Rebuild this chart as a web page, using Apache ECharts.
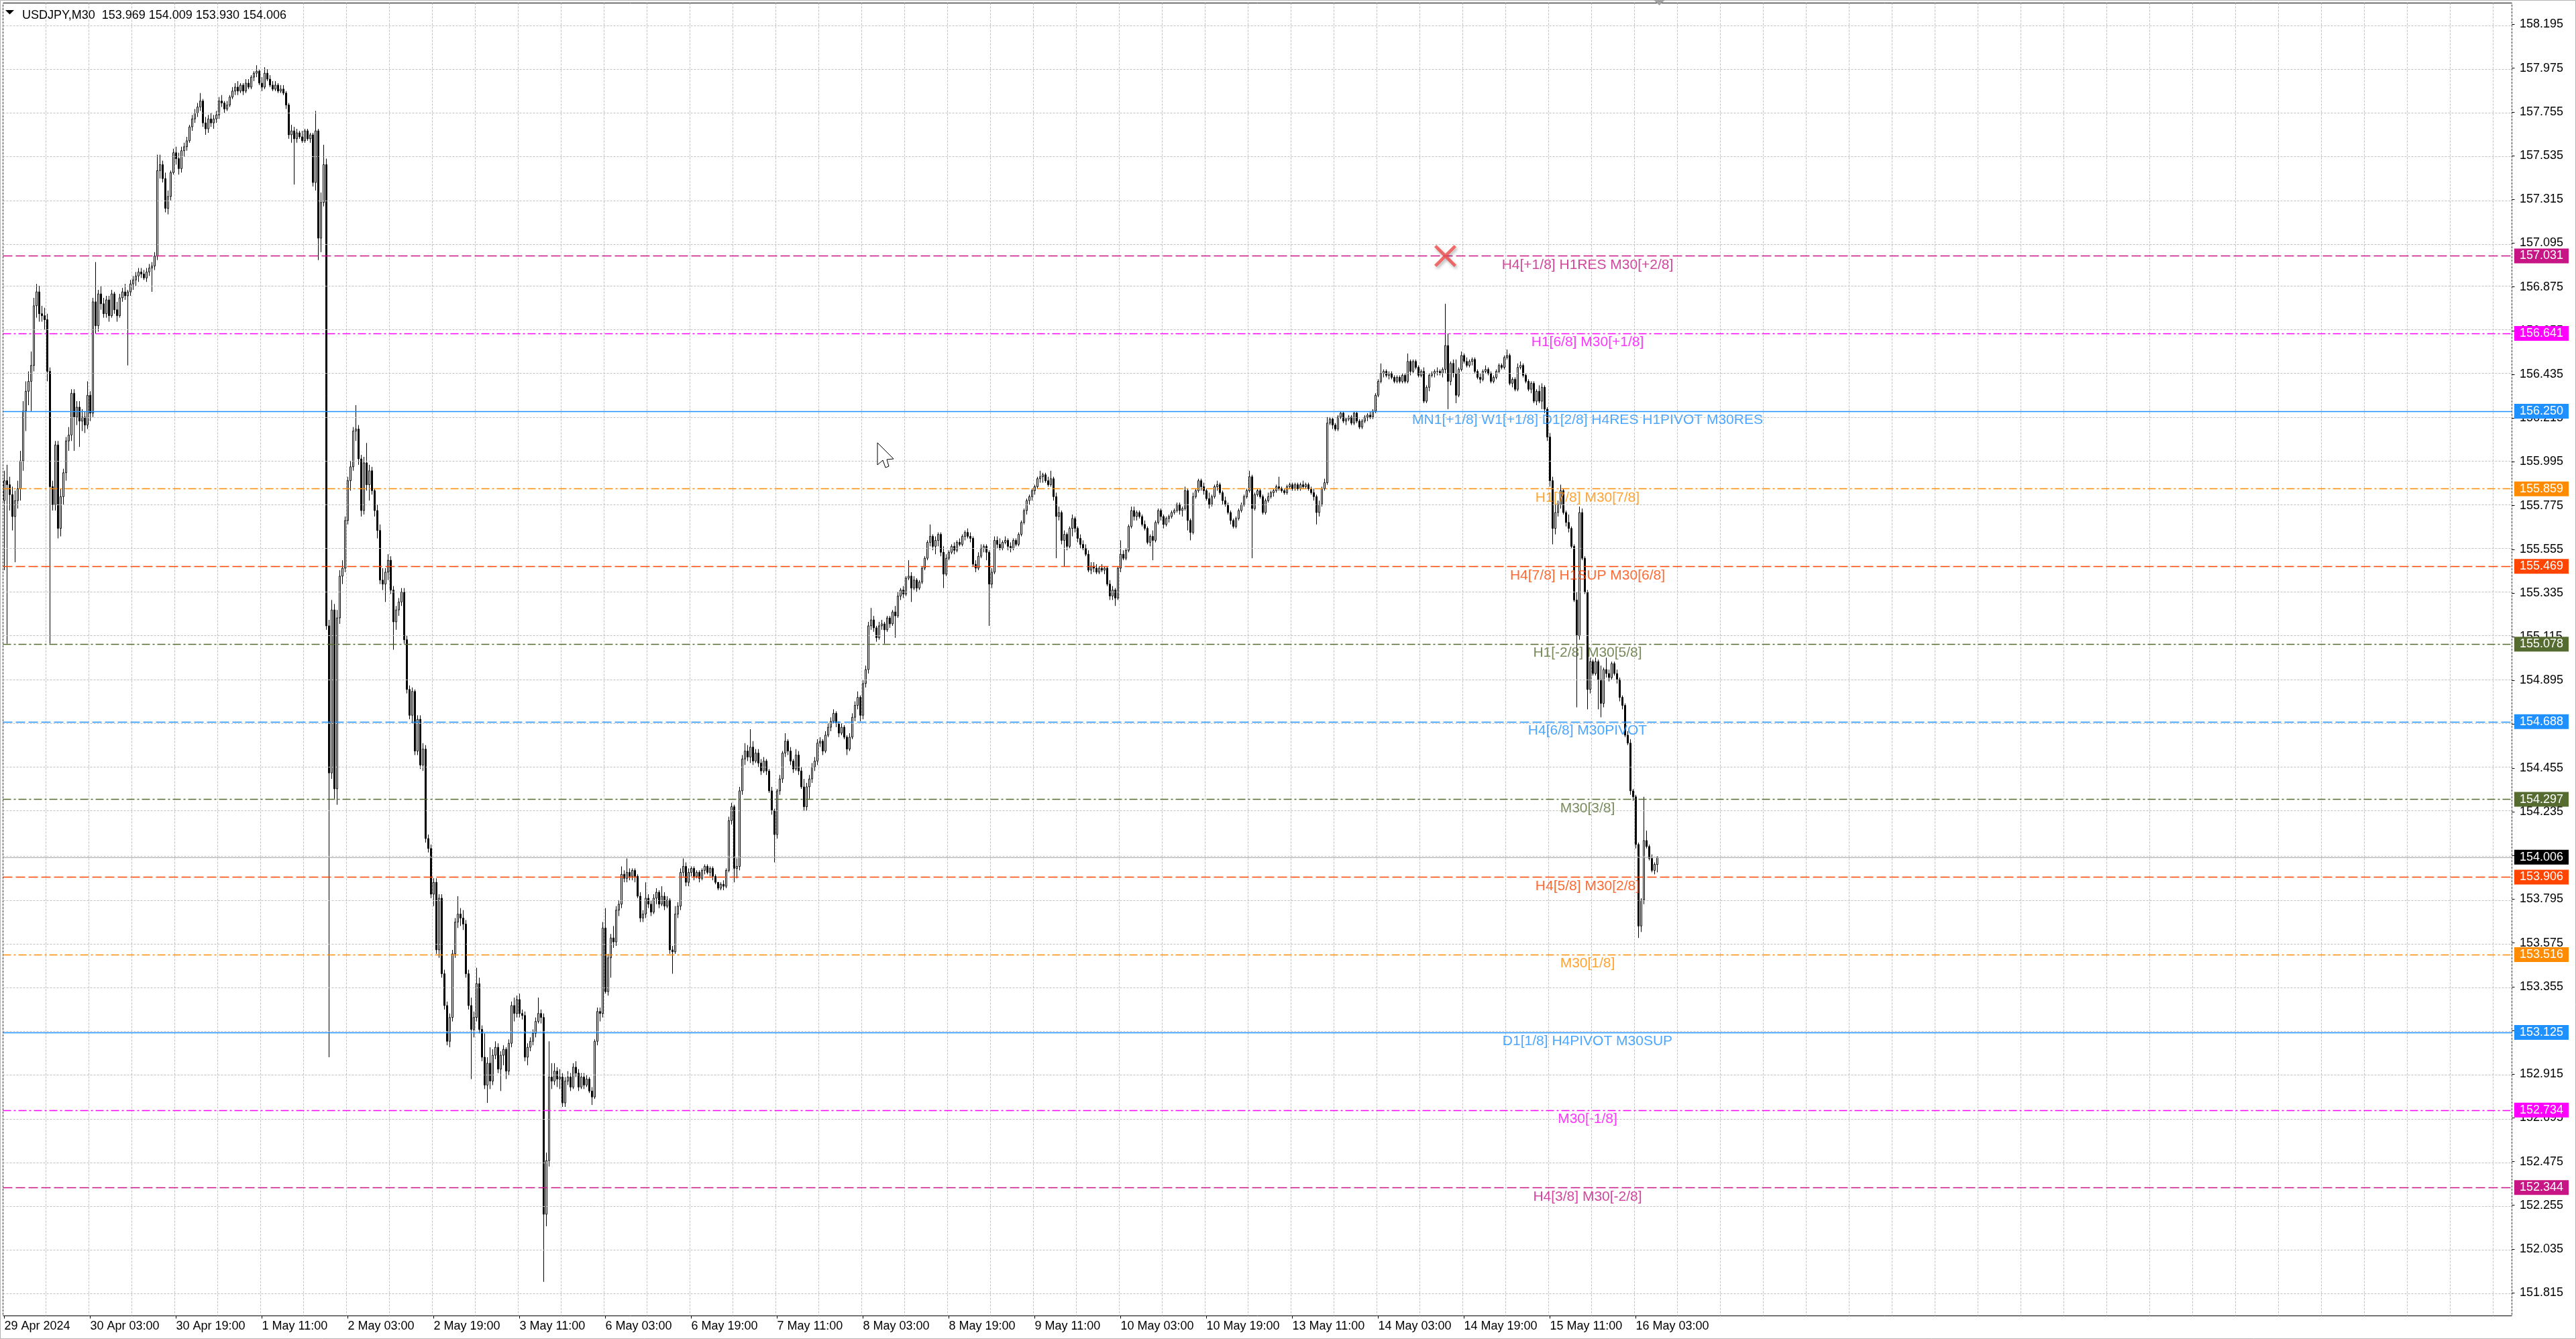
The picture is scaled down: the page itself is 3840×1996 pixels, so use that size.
<!DOCTYPE html>
<html><head><meta charset="utf-8">
<script src="https://cdn.jsdelivr.net/npm/echarts@6/dist/echarts.min.js"></script>
<style>html,body{margin:0;padding:0;background:#fff;}#c{width:3840px;height:1996px;}</style>
</head><body><div id="c"></div>
<script>
const symbolName = "USDJPY,M30";
const lastQuote = [153.969, 154.009, 153.930, 154.006];

const opens = [
155.80,155.90,155.88,155.83,155.72,155.80,155.86,156.00,156.25,156.35,
156.40,156.48,156.78,156.85,156.74,156.73,156.71,156.45,155.87,155.78,
156.08,155.66,155.82,155.94,156.10,156.13,156.34,156.22,156.27,156.20,
156.22,156.18,156.33,156.24,156.80,156.68,156.84,156.79,156.74,156.81,
156.73,156.84,156.76,156.73,156.82,156.85,156.83,156.85,156.89,156.91,
156.93,156.95,156.94,156.92,156.95,156.97,156.98,157.03,157.46,157.49,
157.42,157.27,157.33,157.45,157.55,157.52,157.47,157.56,157.58,157.61,
157.68,157.72,157.75,157.78,157.81,157.70,157.67,157.72,157.70,157.72,
157.74,157.81,157.80,157.77,157.79,157.83,157.86,157.88,157.86,157.89,
157.86,157.90,157.88,157.93,157.95,157.96,157.90,157.88,157.95,157.92,
157.89,157.87,157.89,157.86,157.87,157.85,157.79,157.64,157.66,157.62,
157.65,157.63,157.61,157.66,157.62,157.64,157.40,157.66,157.12,157.30,
157.49,155.17,154.43,155.25,154.35,155.21,155.42,155.46,155.70,155.90,
155.97,156.15,156.16,156.01,155.75,155.99,155.88,155.95,155.85,155.75,
155.65,155.40,155.38,155.44,155.50,155.35,155.19,155.25,155.29,155.34,
155.10,154.85,154.72,154.84,154.54,154.70,154.47,154.55,154.10,154.05,
153.82,153.88,153.54,153.80,153.42,153.26,153.08,153.20,153.52,153.68,
153.72,153.70,153.67,153.42,153.26,153.14,153.20,153.37,153.14,153.00,
152.86,152.97,152.88,153.01,153.05,152.94,153.01,153.04,152.93,153.07,
153.26,153.22,153.29,153.22,153.21,153.00,153.05,153.08,153.12,153.18,
153.22,153.20,152.21,152.48,152.90,152.88,152.93,152.89,152.90,152.77,
152.88,152.90,152.85,152.95,152.92,152.85,152.90,152.86,152.89,152.83,
152.80,153.08,153.23,153.22,153.65,153.33,153.50,153.60,153.58,153.74,
153.77,153.92,153.90,153.93,153.91,153.94,153.91,153.81,153.70,153.72,
153.80,153.77,153.73,153.80,153.83,153.77,153.81,153.76,153.79,153.54,
153.53,153.72,153.76,153.93,153.96,153.88,153.93,153.95,153.91,153.93,
153.90,153.94,153.96,153.93,153.95,153.91,153.88,153.85,153.87,153.86,
153.94,154.19,154.26,153.95,153.96,154.34,154.50,154.54,154.51,154.56,
154.49,154.53,154.48,154.44,154.49,154.44,154.34,154.24,154.12,154.34,
154.40,154.53,154.59,154.54,154.49,154.45,154.52,154.44,154.36,154.26,
154.36,154.40,154.46,154.49,154.58,154.59,154.54,154.62,154.66,154.69,
154.73,154.68,154.63,154.66,154.61,154.55,154.61,154.71,154.77,154.81,
154.72,154.88,154.95,155.17,155.20,155.16,155.11,155.17,155.18,155.15,
155.21,155.18,155.24,155.22,155.32,155.35,155.33,155.41,155.42,155.36,
155.40,155.36,155.39,155.46,155.51,155.59,155.62,155.57,155.60,155.63,
155.54,155.43,155.51,155.54,155.57,155.55,155.59,155.58,155.62,155.64,
155.62,155.61,155.48,155.46,155.52,155.56,155.57,155.54,155.38,155.44,
155.60,155.58,155.56,155.59,155.60,155.57,155.56,155.60,155.58,155.63,
155.69,155.75,155.80,155.82,155.85,155.87,155.91,155.92,155.93,155.90,
155.88,155.91,155.82,155.72,155.74,155.60,155.63,155.57,155.66,155.71,
155.66,155.61,155.58,155.56,155.53,155.45,155.47,155.46,155.44,155.46,
155.45,155.46,155.38,155.32,155.35,155.31,155.46,155.53,155.51,155.55,
155.67,155.75,155.72,155.74,155.72,155.68,155.66,155.59,155.62,155.60,
155.69,155.75,155.72,155.68,155.71,155.72,155.74,155.75,155.78,155.75,
155.76,155.85,155.70,155.64,155.82,155.85,155.90,155.87,155.85,155.81,
155.78,155.82,155.87,155.88,155.84,155.80,155.78,155.74,155.70,155.67,
155.71,155.75,155.78,155.82,155.85,155.92,155.76,155.83,155.85,155.82,
155.74,155.80,155.82,155.84,155.85,155.87,155.86,155.85,155.84,155.87,
155.88,155.86,155.88,155.86,155.88,155.87,155.88,155.86,155.84,155.82,
155.74,155.78,155.86,155.89,156.19,156.21,156.18,156.16,156.22,156.24,
156.20,156.21,156.22,156.19,156.24,156.20,156.17,156.20,156.22,156.23,
156.22,156.25,156.33,156.40,156.44,156.45,156.43,156.44,156.42,156.40,
156.42,156.40,156.43,156.40,156.50,156.45,156.50,156.47,156.43,156.45,
156.30,156.37,156.43,156.44,156.45,156.45,156.44,156.46,156.58,156.40,
156.49,156.44,156.33,156.46,156.53,156.50,156.48,156.50,156.51,156.45,
156.42,156.41,156.45,156.46,156.44,156.40,156.42,156.45,156.48,156.47,
156.52,156.53,156.39,156.41,156.36,156.47,156.48,156.43,156.40,156.36,
156.39,156.30,156.35,156.30,156.37,156.26,156.12,155.90,155.66,155.74,
155.78,155.85,155.74,155.69,155.66,155.57,155.30,155.12,155.74,155.51,
155.34,154.85,154.99,154.93,154.99,154.90,154.78,154.95,154.93,154.91,
154.98,154.93,154.90,154.81,154.77,154.62,154.58,154.34,154.31,154.07,
153.66,153.79,154.09,154.06,154.00,153.94,153.969];

const highs = [
155.95,155.98,155.92,155.87,155.85,155.90,156.05,156.30,156.40,156.45,
156.55,156.82,156.89,156.88,156.78,156.77,156.74,156.47,155.90,156.10,
156.10,155.86,155.96,156.12,156.17,156.36,156.36,156.30,156.30,156.26,
156.25,156.40,156.35,156.82,157.00,156.86,156.88,156.82,156.83,156.83,
156.86,156.85,156.80,156.84,156.87,156.89,156.86,156.91,156.93,156.95,
156.97,156.97,156.96,156.97,156.99,157.00,157.05,157.54,157.54,157.51,
157.45,157.36,157.46,157.57,157.58,157.55,157.58,157.60,157.63,157.69,
157.74,157.77,157.80,157.85,157.82,157.73,157.74,157.75,157.74,157.76,
157.83,157.84,157.81,157.81,157.84,157.88,157.90,157.91,157.90,157.90,
157.92,157.92,157.94,157.96,157.99,157.97,157.93,157.98,157.97,157.94,
157.91,157.91,157.90,157.89,157.89,157.86,157.80,157.69,157.68,157.67,
157.66,157.66,157.67,157.67,157.65,157.65,157.76,157.67,157.35,157.59,
157.52,155.20,155.30,155.28,155.25,155.45,155.50,155.72,155.92,156.00,
156.17,156.28,156.18,156.03,156.02,156.09,155.98,155.97,155.86,155.78,
155.68,155.46,155.46,155.53,155.52,155.37,155.27,155.31,155.36,155.36,
155.12,154.87,154.86,154.85,154.72,154.72,154.58,154.57,154.12,154.07,
153.90,153.90,153.82,153.82,153.44,153.28,153.22,153.54,153.70,153.81,
153.75,153.74,153.69,153.44,153.30,153.23,153.45,153.40,153.16,153.12,
153.00,153.05,153.04,153.08,153.07,153.03,153.06,153.05,153.09,153.28,
153.30,153.31,153.32,153.24,153.23,153.07,153.10,153.14,153.20,153.30,
153.24,153.22,152.52,153.08,152.97,152.97,152.95,152.94,152.92,152.90,
152.93,152.92,152.97,152.98,152.94,152.92,152.92,152.91,152.90,152.85,
153.09,153.25,153.25,153.68,153.75,153.52,153.62,153.66,153.76,153.79,
153.96,153.94,154.00,153.95,153.95,153.95,153.92,153.83,153.74,153.88,
153.82,153.79,153.82,153.85,153.84,153.86,153.83,153.81,153.80,153.56,
153.76,153.78,153.95,154.00,153.98,153.95,153.96,153.96,153.94,153.94,
153.95,153.97,153.97,153.96,153.96,153.92,153.88,153.88,153.89,153.95,
154.21,154.28,154.27,154.00,154.36,154.52,154.58,154.57,154.65,154.59,
154.55,154.55,154.50,154.51,154.50,154.45,154.36,154.25,154.35,154.42,
154.54,154.63,154.60,154.56,154.50,154.55,154.54,154.46,154.40,154.38,
154.42,154.48,154.51,154.60,154.61,154.60,154.64,154.68,154.71,154.75,
154.74,154.69,154.68,154.67,154.62,154.63,154.73,154.79,154.84,154.82,
154.90,154.97,155.19,155.26,155.22,155.17,155.19,155.20,155.19,155.22,
155.22,155.25,155.27,155.34,155.36,155.37,155.42,155.50,155.44,155.42,
155.41,155.40,155.47,155.52,155.60,155.68,155.63,155.62,155.64,155.64,
155.57,155.53,155.55,155.58,155.59,155.60,155.61,155.63,155.65,155.66,
155.64,155.62,155.50,155.54,155.58,155.58,155.58,155.55,155.46,155.62,
155.62,155.61,155.60,155.62,155.61,155.59,155.61,155.61,155.64,155.70,
155.76,155.81,155.83,155.86,155.88,155.92,155.95,155.94,155.94,155.92,
155.95,155.92,155.84,155.77,155.75,155.65,155.64,155.67,155.73,155.72,
155.67,155.63,155.60,155.58,155.55,155.49,155.49,155.48,155.47,155.48,
155.47,155.47,155.40,155.37,155.36,155.47,155.60,155.55,155.56,155.68,
155.77,155.77,155.75,155.75,155.73,155.70,155.67,155.63,155.65,155.70,
155.76,155.76,155.73,155.72,155.73,155.75,155.76,155.79,155.79,155.77,
155.87,155.86,155.71,155.84,155.86,155.91,155.91,155.89,155.86,155.84,
155.83,155.88,155.90,155.89,155.85,155.82,155.79,155.75,155.71,155.72,
155.76,155.79,155.83,155.86,155.95,155.93,155.84,155.86,155.86,155.83,
155.81,155.84,155.85,155.86,155.88,155.92,155.87,155.86,155.88,155.89,
155.89,155.89,155.89,155.89,155.90,155.89,155.89,155.87,155.86,155.83,
155.80,155.87,155.91,156.22,156.22,156.22,156.19,156.23,156.25,156.25,
156.22,156.23,156.23,156.25,156.25,156.21,156.21,156.23,156.24,156.25,
156.26,156.34,156.41,156.49,156.46,156.46,156.45,156.45,156.43,156.43,
156.43,156.44,156.44,156.54,156.51,156.51,156.51,156.48,156.46,156.47,
156.38,156.44,156.45,156.46,156.47,156.46,156.47,156.79,156.64,156.50,
156.51,156.51,156.47,156.55,156.54,156.52,156.51,156.52,156.52,156.46,
156.44,156.46,156.48,156.47,156.45,156.43,156.46,156.49,156.49,156.53,
156.56,156.54,156.42,156.42,156.49,156.50,156.49,156.44,156.41,156.40,
156.40,156.36,156.38,156.39,156.38,156.27,156.14,155.92,155.78,155.80,
155.88,155.86,155.75,155.73,155.67,155.58,155.34,155.77,155.76,155.52,
155.35,155.01,155.00,155.01,155.00,154.97,154.96,155.01,154.95,154.99,
154.99,154.95,154.91,154.82,154.78,154.64,154.60,154.35,154.32,154.08,
153.80,154.31,154.14,154.07,154.02,153.98,154.009];

const lows = [
155.45,155.08,155.75,155.65,155.49,155.76,155.80,155.95,156.15,156.28,
156.25,156.45,156.72,156.70,156.70,156.66,156.40,155.08,155.75,155.75,
155.61,155.62,155.78,155.90,156.05,156.10,156.05,156.18,156.07,156.15,
156.14,156.16,156.20,156.22,156.64,156.65,156.76,156.72,156.72,156.70,
156.72,156.74,156.70,156.72,156.80,156.81,156.48,156.83,156.86,156.88,
156.90,156.92,156.91,156.90,156.93,156.85,156.96,157.01,157.42,157.40,
157.25,157.24,157.31,157.44,157.49,157.44,157.45,157.53,157.56,157.60,
157.66,157.70,157.73,157.76,157.68,157.64,157.65,157.68,157.67,157.70,
157.72,157.78,157.75,157.76,157.78,157.82,157.84,157.84,157.85,157.84,
157.85,157.87,157.87,157.91,157.93,157.89,157.86,157.87,157.91,157.88,
157.86,157.86,157.85,157.85,157.84,157.77,157.62,157.60,157.39,157.60,
157.62,157.60,157.60,157.61,157.60,157.38,157.36,157.01,157.05,157.28,
155.15,153.00,154.40,154.30,154.27,155.18,155.38,155.44,155.68,155.85,
155.95,156.10,155.98,155.72,155.73,155.85,155.80,155.83,155.72,155.61,
155.38,155.35,155.29,155.40,155.33,155.05,155.15,155.22,155.27,155.08,
154.83,154.70,154.68,154.52,154.52,154.45,154.44,154.08,154.03,153.80,
153.76,153.52,153.50,153.40,153.24,153.06,153.05,153.18,153.50,153.65,
153.66,153.64,153.40,153.24,152.89,153.10,153.18,153.12,152.98,152.84,
152.77,152.84,152.86,152.99,152.92,152.83,152.96,152.89,152.91,153.05,
153.18,153.20,153.20,153.19,152.98,152.96,153.03,153.06,153.10,153.17,
153.17,151.87,152.15,152.45,152.84,152.86,152.85,152.84,152.75,152.75,
152.86,152.83,152.84,152.90,152.83,152.84,152.84,152.85,152.82,152.76,
152.79,153.06,153.18,153.20,153.32,153.31,153.40,153.55,153.56,153.71,
153.75,153.88,153.88,153.89,153.89,153.88,153.80,153.68,153.68,153.70,
153.75,153.71,153.72,153.77,153.75,153.76,153.74,153.75,153.52,153.42,
153.52,153.70,153.74,153.91,153.86,153.86,153.91,153.89,153.90,153.88,
153.89,153.92,153.92,153.91,153.89,153.87,153.84,153.84,153.84,153.85,
153.93,154.17,153.88,153.90,153.94,154.32,154.47,154.49,154.48,154.47,
154.48,154.46,154.42,154.43,154.42,154.33,154.22,153.98,154.10,154.32,
154.38,154.51,154.52,154.47,154.43,154.44,154.42,154.35,154.24,154.24,
154.30,154.38,154.44,154.47,154.56,154.52,154.53,154.61,154.64,154.68,
154.66,154.61,154.62,154.60,154.52,154.54,154.60,154.69,154.75,154.69,
154.70,154.86,154.93,155.15,155.14,155.09,155.10,155.15,155.08,155.14,
155.16,155.17,155.11,155.21,155.30,155.31,155.32,155.40,155.29,155.35,
155.34,155.35,155.38,155.45,155.50,155.57,155.55,155.53,155.57,155.52,
155.36,155.42,155.50,155.53,155.53,155.54,155.57,155.57,155.60,155.61,
155.59,155.47,155.44,155.45,155.51,155.54,155.50,155.17,155.36,155.43,
155.56,155.55,155.55,155.58,155.55,155.54,155.55,155.57,155.57,155.62,
155.68,155.73,155.78,155.80,155.83,155.86,155.89,155.89,155.89,155.87,
155.87,155.80,155.51,155.70,155.58,155.47,155.55,155.56,155.62,155.64,
155.59,155.56,155.55,155.52,155.44,155.43,155.44,155.43,155.43,155.44,
155.43,155.37,155.30,155.30,155.27,155.30,155.44,155.50,155.50,155.54,
155.66,155.70,155.70,155.71,155.67,155.65,155.58,155.57,155.50,155.59,
155.68,155.70,155.66,155.67,155.69,155.71,155.73,155.74,155.73,155.72,
155.75,155.65,155.60,155.63,155.81,155.84,155.85,155.83,155.80,155.76,
155.77,155.81,155.85,155.83,155.78,155.77,155.73,155.68,155.66,155.66,
155.70,155.74,155.77,155.81,155.84,155.51,155.75,155.82,155.81,155.73,
155.73,155.79,155.81,155.82,155.84,155.85,155.84,155.83,155.83,155.86,
155.85,155.85,155.85,155.85,155.86,155.86,155.85,155.83,155.80,155.68,
155.72,155.77,155.85,155.88,156.18,156.16,156.15,156.15,156.21,156.19,
156.18,156.20,156.18,156.18,156.19,156.16,156.16,156.19,156.20,156.21,
156.21,156.24,156.32,156.39,156.42,156.42,156.41,156.41,156.39,156.39,
156.39,156.39,156.39,156.39,156.43,156.44,156.46,156.42,156.42,156.29,
156.29,156.35,156.42,156.42,156.43,156.43,156.42,156.44,156.26,156.38,
156.42,156.29,156.32,156.45,156.49,156.47,156.47,156.48,156.44,156.41,
156.39,156.40,156.44,156.43,156.39,156.39,156.41,156.44,156.46,156.46,
156.51,156.38,156.37,156.35,156.35,156.46,156.42,156.39,156.35,156.34,
156.29,156.28,156.29,156.26,156.24,156.10,155.87,155.58,155.63,155.72,
155.76,155.73,155.67,155.64,155.56,155.29,154.76,155.10,155.50,155.33,
154.75,154.83,154.92,154.92,154.75,154.71,154.76,154.91,154.89,154.90,
154.92,154.88,154.79,154.75,154.61,154.57,154.32,154.29,154.05,153.60,
153.63,153.77,154.05,153.99,153.93,153.92,153.930];

const closes = [
155.90,155.88,155.83,155.72,155.80,155.86,156.00,156.25,156.35,156.40,
156.48,156.78,156.85,156.74,156.73,156.71,156.45,155.87,155.78,156.08,
155.66,155.82,155.94,156.10,156.13,156.34,156.22,156.27,156.20,156.22,
156.18,156.33,156.24,156.80,156.68,156.84,156.79,156.74,156.81,156.73,
156.84,156.76,156.73,156.82,156.85,156.83,156.85,156.89,156.91,156.93,
156.95,156.94,156.92,156.95,156.97,156.98,157.03,157.46,157.49,157.42,
157.27,157.33,157.45,157.55,157.52,157.47,157.56,157.58,157.61,157.68,
157.72,157.75,157.78,157.81,157.70,157.67,157.72,157.70,157.72,157.74,
157.81,157.80,157.77,157.79,157.83,157.86,157.88,157.86,157.89,157.86,
157.90,157.88,157.93,157.95,157.96,157.90,157.88,157.95,157.92,157.89,
157.87,157.89,157.86,157.87,157.85,157.79,157.64,157.66,157.62,157.65,
157.63,157.61,157.66,157.62,157.64,157.40,157.66,157.12,157.30,157.49,
155.17,154.43,155.25,154.35,155.21,155.42,155.46,155.70,155.90,155.97,
156.15,156.16,156.01,155.75,155.99,155.88,155.95,155.85,155.75,155.65,
155.40,155.38,155.44,155.50,155.35,155.19,155.25,155.29,155.34,155.10,
154.85,154.72,154.84,154.54,154.70,154.47,154.55,154.10,154.05,153.82,
153.88,153.54,153.80,153.42,153.26,153.08,153.20,153.52,153.68,153.72,
153.70,153.67,153.42,153.26,153.14,153.20,153.37,153.14,153.00,152.86,
152.97,152.88,153.01,153.05,152.94,153.01,153.04,152.93,153.07,153.26,
153.22,153.29,153.22,153.21,153.00,153.05,153.08,153.12,153.18,153.22,
153.20,152.21,152.48,152.90,152.88,152.93,152.89,152.90,152.77,152.88,
152.90,152.85,152.95,152.92,152.85,152.90,152.86,152.89,152.83,152.80,
153.08,153.23,153.22,153.65,153.33,153.50,153.60,153.58,153.74,153.77,
153.92,153.90,153.93,153.91,153.94,153.91,153.81,153.70,153.72,153.80,
153.77,153.73,153.80,153.83,153.77,153.81,153.76,153.79,153.54,153.53,
153.72,153.76,153.93,153.96,153.88,153.93,153.95,153.91,153.93,153.90,
153.94,153.96,153.93,153.95,153.91,153.88,153.85,153.87,153.86,153.94,
154.19,154.26,153.95,153.96,154.34,154.50,154.54,154.51,154.56,154.49,
154.53,154.48,154.44,154.49,154.44,154.34,154.24,154.12,154.34,154.40,
154.53,154.59,154.54,154.49,154.45,154.52,154.44,154.36,154.26,154.36,
154.40,154.46,154.49,154.58,154.59,154.54,154.62,154.66,154.69,154.73,
154.68,154.63,154.66,154.61,154.55,154.61,154.71,154.77,154.81,154.72,
154.88,154.95,155.17,155.20,155.16,155.11,155.17,155.18,155.15,155.21,
155.18,155.24,155.22,155.32,155.35,155.33,155.41,155.42,155.36,155.40,
155.36,155.39,155.46,155.51,155.59,155.62,155.57,155.60,155.63,155.54,
155.43,155.51,155.54,155.57,155.55,155.59,155.58,155.62,155.64,155.62,
155.61,155.48,155.46,155.52,155.56,155.57,155.54,155.38,155.44,155.60,
155.58,155.56,155.59,155.60,155.57,155.56,155.60,155.58,155.63,155.69,
155.75,155.80,155.82,155.85,155.87,155.91,155.92,155.93,155.90,155.88,
155.91,155.82,155.72,155.74,155.60,155.63,155.57,155.66,155.71,155.66,
155.61,155.58,155.56,155.53,155.45,155.47,155.46,155.44,155.46,155.45,
155.46,155.38,155.32,155.35,155.31,155.46,155.53,155.51,155.55,155.67,
155.75,155.72,155.74,155.72,155.68,155.66,155.59,155.62,155.60,155.69,
155.75,155.72,155.68,155.71,155.72,155.74,155.75,155.78,155.75,155.76,
155.85,155.70,155.64,155.82,155.85,155.90,155.87,155.85,155.81,155.78,
155.82,155.87,155.88,155.84,155.80,155.78,155.74,155.70,155.67,155.71,
155.75,155.78,155.82,155.85,155.92,155.76,155.83,155.85,155.82,155.74,
155.80,155.82,155.84,155.85,155.87,155.86,155.85,155.84,155.87,155.88,
155.86,155.88,155.86,155.88,155.87,155.88,155.86,155.84,155.82,155.74,
155.78,155.86,155.89,156.19,156.21,156.18,156.16,156.22,156.24,156.20,
156.21,156.22,156.19,156.24,156.20,156.17,156.20,156.22,156.23,156.22,
156.25,156.33,156.40,156.44,156.45,156.43,156.44,156.42,156.40,156.42,
156.40,156.43,156.40,156.50,156.45,156.50,156.47,156.43,156.45,156.30,
156.37,156.43,156.44,156.45,156.45,156.44,156.46,156.58,156.40,156.49,
156.44,156.33,156.46,156.53,156.50,156.48,156.50,156.51,156.45,156.42,
156.41,156.45,156.46,156.44,156.40,156.42,156.45,156.48,156.47,156.52,
156.53,156.39,156.41,156.36,156.47,156.48,156.43,156.40,156.36,156.39,
156.30,156.35,156.30,156.37,156.26,156.12,155.90,155.66,155.74,155.78,
155.85,155.74,155.69,155.66,155.57,155.30,155.12,155.74,155.51,155.34,
154.85,154.99,154.93,154.99,154.90,154.78,154.95,154.93,154.91,154.98,
154.93,154.90,154.81,154.77,154.62,154.58,154.34,154.31,154.07,153.66,
153.79,154.09,154.06,154.00,153.94,153.97,154.006];

const xTickLabels = ["29 Apr 2024","30 Apr 03:00","30 Apr 19:00","1 May 11:00","2 May 03:00","2 May 19:00","3 May 11:00","6 May 03:00","6 May 19:00","7 May 11:00","8 May 03:00","8 May 19:00","9 May 11:00","10 May 03:00","10 May 19:00","13 May 11:00","14 May 03:00","14 May 19:00","15 May 11:00","16 May 03:00"];
const yTickValues = [151.815,152.035,152.255,152.475,152.695,152.915,153.135,153.355,153.575,153.795,154.015,154.235,154.455,154.675,154.895,155.115,155.335,155.555,155.775,155.995,156.215,156.435,156.655,156.875,157.095,157.315,157.535,157.755,157.975,158.195];

const levelValues = [157.031,156.641,156.250,155.859,155.469,155.078,154.688,154.297,153.906,153.516,153.125,152.734,152.344];
const levelNames = ["H4[+1/8] H1RES M30[+2/8]","H1[6/8] M30[+1/8]","MN1[+1/8] W1[+1/8] D1[2/8] H4RES H1PIVOT M30RES","H1[7/8] M30[7/8]","H4[7/8] H1SUP M30[6/8]","H1[-2/8] M30[5/8]","H4[6/8] M30PIVOT","M30[3/8]","H4[5/8] M30[2/8]","M30[1/8]","D1[1/8] H4PIVOT M30SUP","M30[-1/8]","H4[3/8] M30[-2/8]"];
const levelColors = ["#C71585","#FF00FF","#1E90FF","#FF8C00","#FF4500","#556B2F","#1E90FF","#556B2F","#FF4500","#FF8C00","#1E90FF","#FF00FF","#C71585"];
const levelStyles = ["dash","dashdot","solid","dashdot","dash","dashdot","dash","dashdot","dash","dashdot","solid","dashdot","dash"];
const bidPrice = 154.006;
const signalBar = 537;
const signalPrice = 157.031;

// ---- layout / style constants ----
const FONT = "'Liberation Sans', Arial, sans-serif";
const TOTAL_SLOTS = 935;
const BARS_PER_LABEL = 32;
const BARS_PER_GRID = 16;
const LABEL_SLOT = 590;
const dashTypes = {dash:[14,5], dashdot:[12,4,3,4], solid:'solid'};

const slots = Array.from({length: TOTAL_SLOTS}, (_, i) => String(i));
const candleData = opens.map((o, i) => {
  const c = closes[i];
  return [o, c, Math.min(lows[i], o, c), Math.max(highs[i], o, c)];
});

const chart = echarts.init(document.getElementById('c'), null, {renderer: 'canvas'});
const labelInterval = (i) => i % BARS_PER_LABEL === 0 && i / BARS_PER_LABEL < xTickLabels.length;

chart.setOption({
  animation: false,
  backgroundColor: '#fff',
  title: {
    text: symbolName + '  ' + lastQuote.map(v => v.toFixed(3)).join(' '),
    left: 28, top: 8,
    textStyle: {fontFamily: FONT, fontSize: 18, fontWeight: 'normal', color: '#000', lineHeight: 20}
  },
  grid: {left: 4.5, top: 4.5, right: 95.5, bottom: 34.5, show: true, borderColor: '#000', borderWidth: 1, backgroundColor: '#fff', containLabel: false},
  xAxis: {
    type: 'category', data: slots, boundaryGap: true,
    axisLine: {show: false},
    axisTick: {show: true, alignWithLabel: true, interval: labelInterval, length: 4, lineStyle: {color: '#000'}},
    axisLabel: {interval: labelInterval, formatter: (v, i) => xTickLabels[Math.round(Number(v) / BARS_PER_LABEL)] || '',
      align: 'left', margin: 7, fontSize: 18, fontFamily: FONT, color: '#000'},
    splitLine: {show: true, interval: (i) => i % BARS_PER_GRID === 0, lineStyle: {color: '#C0C0C0', type: [3,2], width: 1}}
  },
  yAxis: {
    type: 'value', position: 'right', min: 151.699, max: 158.303,
    axisLine: {show: false},
    splitLine: {show: false},
    axisTick: {show: true, customValues: yTickValues, length: 4, lineStyle: {color: '#000'}},
    axisLabel: {customValues: yTickValues, formatter: v => v.toFixed(3), fontSize: 18, fontFamily: FONT, color: '#000', margin: 11.5}
  },
  series: [
    {
      type: 'line', data: [], z: 1, silent: true, clip: false,
      markLine: {
        silent: true, symbol: ['none','none'], animation: false,
        label: {show: false},
        lineStyle: {color: '#C0C0C0', type: [3,2], width: 1},
        data: yTickValues.map(v => ({yAxis: v}))
      }
    },
    {
      type: 'line', data: [], z: 2, silent: true, clip: false,
      markLine: {
        silent: true, symbol: ['none','none'], animation: false, precision: 3,
        label: {show: true, position: 'end', distance: 3.5, color: '#fff', fontSize: 18, fontFamily: FONT,
          padding: [2,8,1,8], lineHeight: 19},
        data: levelValues.map((v, i) => ({
          yAxis: v,
          lineStyle: {color: levelColors[i], type: dashTypes[levelStyles[i]], width: 1.3},
          label: {backgroundColor: levelColors[i], formatter: () => v.toFixed(3)}
        })).concat([{
          yAxis: bidPrice,
          lineStyle: {color: '#A9A9A9', type: 'solid', width: 1.2},
          label: {backgroundColor: '#000', formatter: () => bidPrice.toFixed(3)}
        }])
      }
    },
    {
      type: 'candlestick', data: candleData, z: 3, large: false, barWidth: 2,
      itemStyle: {color: '#fff', color0: '#000', borderColor: '#000', borderColor0: '#000', borderColorDoji: '#000', borderWidth: 1}
    },
    {
      type: 'scatter', z: 4, silent: true, symbol: 'circle', symbolSize: 1,
      itemStyle: {color: 'rgba(0,0,0,0)'},
      data: levelValues.map((v, i) => ({
        value: [LABEL_SLOT, v],
        label: {show: true, position: 'inside', offset: [0, 13.5], formatter: levelNames[i], color: levelColors[i],
          fontSize: 21, fontFamily: FONT}
      }))
    },
    {
      type: 'scatter', z: 5, silent: true,
      symbol: 'path://M2,0 L10,8 L18,0 L20,2 L12,10 L20,18 L18,20 L10,12 L2,20 L0,18 L8,10 L0,2 Z',
      symbolSize: [33, 33],
      itemStyle: {color: '#F24A4A', shadowBlur: 4, shadowColor: 'rgba(0,0,0,0.35)', shadowOffsetX: 2, shadowOffsetY: 3},
      data: [[signalBar, signalPrice]]
    }
  ],
  graphic: [
    {type: 'rect', shape: {x: 0.5, y: 0.5, width: 3839, height: 1995}, style: {fill: 'none', stroke: '#B4B4B4', lineWidth: 1}, silent: true},
    {type: 'polygon', shape: {points: [[8,15],[21,15],[14.5,21.5]]}, style: {fill: '#000'}, silent: true},
    {type: 'polygon', shape: {points: [[2465,0],[2482,0],[2473.5,8]]}, style: {fill: '#A0A0A0'}, silent: true},
    {type: 'polygon', x: 1308, y: 660, shape: {points: [[0,0],[0,33],[8,26],[12,37],[17,35],[14,25],[24,24]]},
      style: {fill: '#fff', stroke: '#000', lineWidth: 1}, silent: true, z: 100}
  ]
});
</script>
</body></html>
